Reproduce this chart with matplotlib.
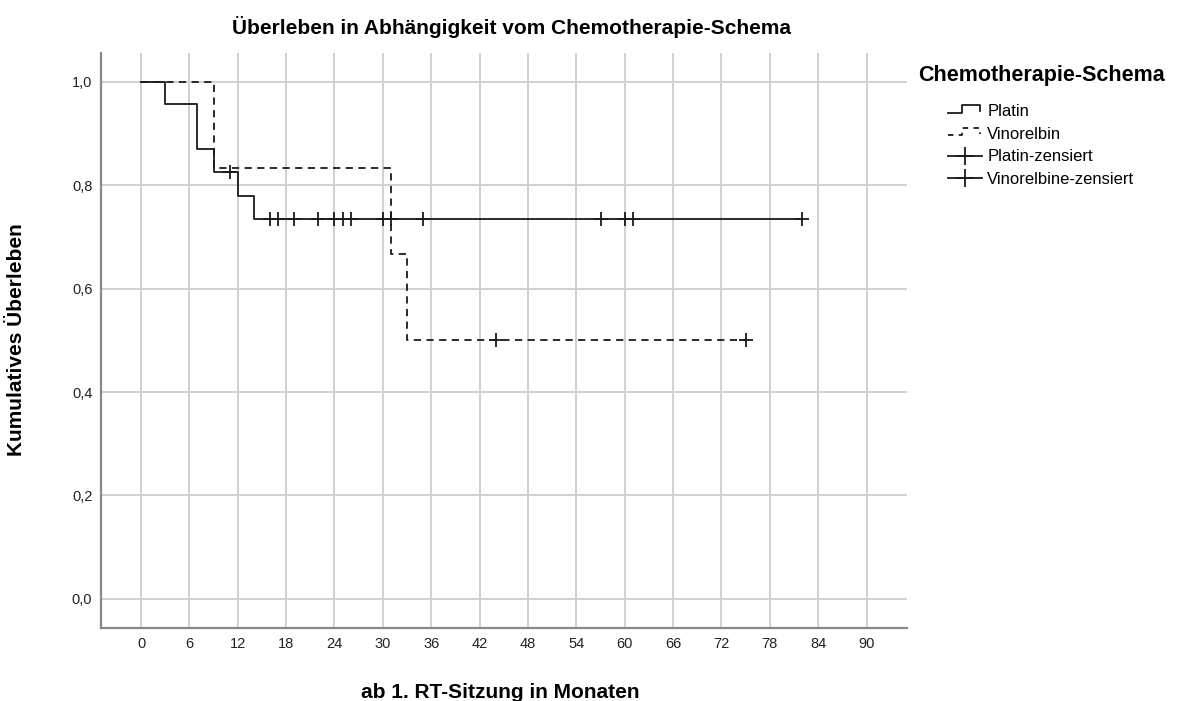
"""Kaplan-Meier survival by chemotherapy schema (step curves with censor marks)."""

import matplotlib

matplotlib.use("Agg")
import matplotlib.pyplot as plt
from matplotlib.legend_handler import HandlerBase
from matplotlib.lines import Line2D

# step curves (time in months, cumulative survival)
platin_time = [0, 3, 7, 9, 12, 14, 82]
platin_surv = [1.0, 0.957, 0.870, 0.826, 0.780, 0.734, 0.734]
vinorelbin_time = [0, 9, 31, 33, 75]
vinorelbin_surv = [1.0, 0.833, 0.667, 0.5, 0.5]

# censored observations
platin_cens_time = [11, 16, 17, 19, 22, 24, 25, 26, 30, 31, 35, 57, 60, 61, 82]
platin_cens_surv = [0.826] + [0.734] * 14
vinorelbin_cens_time = [44, 75]
vinorelbin_cens_surv = [0.5, 0.5]

x_ticks = [0, 6, 12, 18, 24, 30, 36, 42, 48, 54, 60, 66, 72, 78, 84, 90]
y_ticks = [0.0, 0.2, 0.4, 0.6, 0.8, 1.0]
legend_labels = ["Platin", "Vinorelbin", "Platin-zensiert", "Vinorelbine-zensiert"]

INK = "#1a1a1a"
FONT = ["Liberation Sans", "DejaVu Sans"]


class StepHandler(HandlerBase):
    """Legend handle drawn as a small step, like the SPSS output."""

    def create_artists(self, legend, orig_handle, xdescent, ydescent, width, height, fontsize, trans):
        x0 = -xdescent
        y0 = -ydescent
        xs = [x0, x0 + 0.42 * width, x0 + 0.42 * width, x0 + 0.95 * width, x0 + 0.95 * width]
        ys = [y0 + 0.3 * height, y0 + 0.3 * height, y0 + 0.95 * height, y0 + 0.95 * height, y0 + 0.4 * height]
        line = Line2D(xs, ys, color=orig_handle.get_color(), linewidth=orig_handle.get_linewidth(),
                      linestyle=orig_handle.get_linestyle())
        if orig_handle.get_linestyle() != "-":
            line.set_dashes((3, 3))
        line.set_transform(trans)
        return [line]


def main() -> None:
    plt.rcParams["font.family"] = FONT
    fig = plt.figure(figsize=(11.89, 7.01), dpi=100)
    ax = fig.add_axes([0.0847, 0.1037, 0.678, 0.8207])

    (platin_line,) = ax.step(platin_time, platin_surv, where="post", color=INK, linewidth=1.3)
    (vino_line,) = ax.step(vinorelbin_time, vinorelbin_surv, where="post", color=INK, linewidth=1.3,
                           linestyle="--", dashes=(4, 3))
    ax.plot(platin_cens_time, platin_cens_surv, linestyle="none", marker="+", markersize=10,
            markeredgewidth=1.3, color=INK)
    ax.plot(vinorelbin_cens_time, vinorelbin_cens_surv, linestyle="none", marker="+", markersize=10,
            markeredgewidth=1.3, color=INK)

    ax.set_xlim(-5, 95)
    ax.set_ylim(-0.057, 1.056)
    ax.set_xticks(x_ticks)
    ax.set_xticklabels([str(t) for t in x_ticks])
    ax.set_yticks(y_ticks)
    ax.set_yticklabels([f"{v:.1f}".replace(".", ",") for v in y_ticks])
    ax.tick_params(length=0, labelsize=10.5, colors="#222222")
    ax.tick_params(axis="x", pad=6)
    ax.tick_params(axis="y", pad=6)
    ax.grid(True, color="#d0d0d0", linewidth=1.4)
    ax.set_axisbelow(True)
    for side in ("top", "right"):
        ax.spines[side].set_visible(False)
    for side in ("left", "bottom"):
        ax.spines[side].set_color("#888888")
        ax.spines[side].set_linewidth(1.6)

    fig.text(511 / 1189, 1 - 27 / 701, "Überleben in Abhängigkeit vom Chemotherapie-Schema",
             ha="center", va="center", fontsize=15, fontweight="bold")
    fig.text(500 / 1189, 1 - 692 / 701, "ab 1. RT-Sitzung in Monaten",
             ha="center", va="center", fontsize=15, fontweight="bold")
    fig.text(17 / 1189, 1 - 340 / 701, "Kumulatives Überleben", rotation=90,
             ha="center", va="center", fontsize=15, fontweight="bold")

    fig.text(918 / 1189, 1 - 75 / 701, "Chemotherapie-Schema", ha="left", va="center",
             fontsize=15.5, fontweight="bold")
    cens_handle = Line2D([], [], color=INK, linewidth=1.3, marker="+", markersize=13, markeredgewidth=1.3)
    ax.legend(
        [platin_line, vino_line, cens_handle, cens_handle],
        legend_labels,
        handler_map={platin_line: StepHandler(), vino_line: StepHandler()},
        loc="upper left",
        bbox_to_anchor=(948 / 1189, 1 - 104 / 701),
        bbox_transform=fig.transFigure,
        frameon=False,
        borderpad=0,
        borderaxespad=0,
        fontsize=12,
        handlelength=2.05,
        handleheight=0.7,
        handletextpad=0.3,
        labelspacing=0.46,
        numpoints=1,
    )

    fig.savefig("out.png", dpi=100)
    plt.close(fig)


if __name__ == "__main__":
    main()
